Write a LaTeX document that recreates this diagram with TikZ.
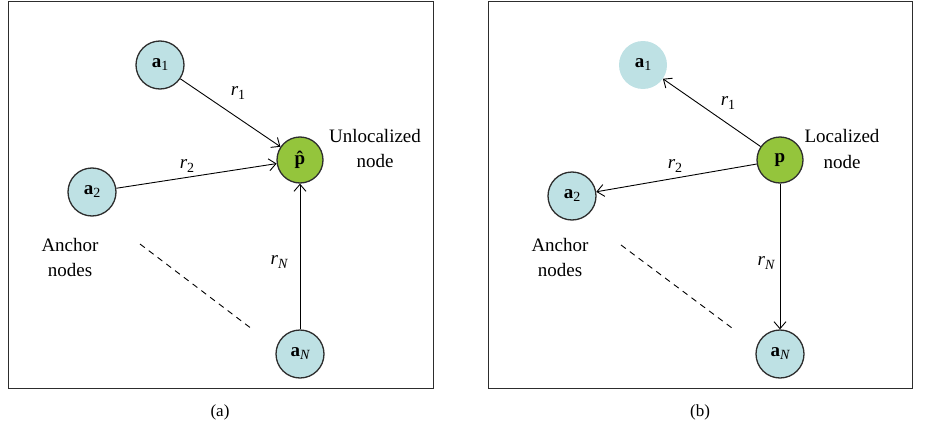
\documentclass[tikz,border=0pt]{standalone}
\usepackage{fontspec}
\setmainfont{Liberation Serif}
\usetikzlibrary{arrows.meta}
\definecolor{anchorblue}{RGB}{190,225,228}
\definecolor{nodegreen}{RGB}{148,197,60}
\definecolor{edgegray}{RGB}{45,45,45}
\newcommand\subtxt[1]{\raisebox{-0.35ex}{\fontsize{14}{14}\selectfont #1}}
\newcommand\anc[1]{{\bfseries a}\subtxt{#1}}
\newcommand\rr[1]{{\itshape r}\subtxt{#1}}
\begin{document}
\begin{tikzpicture}[x=1pt,y=-1pt,
  every node/.style={font=\fontsize{19}{25}\selectfont},
  anchornode/.style={circle,draw=edgegray,line width=1.3pt,fill=anchorblue,minimum size=48pt,inner sep=0pt},
  ghostnode/.style={circle,fill=anchorblue,minimum size=48pt,inner sep=0pt},
  mainnode/.style={circle,draw=edgegray,line width=1.3pt,fill=nodegreen,minimum size=46pt,inner sep=0pt},
  conn/.style={line width=0.9pt,-{Straight Barb[length=7pt,width=12pt,line width=0.9pt]}},
  dashline/.style={line width=0.9pt,dash pattern=on 6pt off 5pt},
  frame/.style={line width=1pt,draw=edgegray},
  lbl/.style={align=center,inner sep=0pt}]
\useasboundingbox (0,0) rectangle (932,431);
% frames
\draw[frame] (8,1) rectangle (433,388);
\draw[frame] (488,1) rectangle (912,388);
% ---- (a)
\node[anchornode] (la1) at (160,65) {\anc{1}};
\node[anchornode] (la2) at (92,192) {\anc{2}};
\node[anchornode] (laN) at (300,354) {\anc{\itshape N}};
\node[mainnode] (lp) at (300,160) {{\bfseries\^{p}}};
\draw[conn] (la1) -- (lp);
\draw[conn] (la2) -- (lp);
\draw[conn] (laN) -- (lp);
\node[lbl] (lr1) at (238,93) {\rr{1}};
\node[lbl] (lr2) at (187,166) {\rr{2}};
\node[lbl] (lrN) at (279,262) {\rr{\itshape N}};
\node[lbl] (lun) at (375,148) {Unlocalized\\node};
\node[lbl] (lan) at (70,257) {Anchor\\nodes};
\coordinate (ld1) at (140,244);
\coordinate (ld2) at (252,329);
\draw[dashline] (ld1) -- (ld2);
\node[lbl] (capa) at (220,412) {\fontsize{17}{20}\selectfont (a)};
% ---- (b)
\node[ghostnode] (ra1) at (643,65) {\anc{1}};
\node[anchornode] (ra2) at (572,196) {\anc{2}};
\node[anchornode] (raN) at (780,354) {\anc{\itshape N}};
\node[mainnode] (rp) at (780,160) {{\bfseries p}};
\draw[conn] (rp) -- (ra1);
\draw[conn] (rp) -- (ra2);
\draw[conn] (rp) -- (raN);
\node[lbl] (rr1) at (728,103) {\rr{1}};
\node[lbl] (rr2) at (675,166) {\rr{2}};
\node[lbl] (rrN) at (766,263) {\rr{\itshape N}};
\node[lbl] (rlo) at (842,149) {Localized\\node};
\node[lbl] (ran) at (560,257) {Anchor\\nodes};
\coordinate (rd1) at (621,245);
\coordinate (rd2) at (732,328);
\draw[dashline] (rd1) -- (rd2);
\node[lbl] (capb) at (700,412) {\fontsize{17}{20}\selectfont (b)};
\end{tikzpicture}
\end{document}
